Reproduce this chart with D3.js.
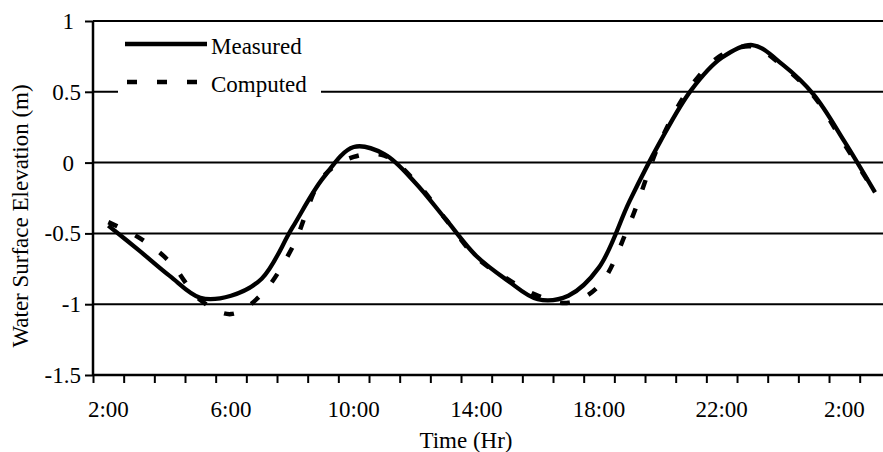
<!DOCTYPE html>
<html>
<head>
<meta charset="utf-8">
<script src="https://cdn.jsdelivr.net/npm/d3@7"></script>
<style>
  body { margin: 0; background: #fff; }
</style>
</head>
<body>
<div id="viz"></div>
<script>
const width = 883;
const height = 452;
const fontFamily = 'Liberation Serif';

// hours since midnight of day 1 (26 = 2:00 next day)
const hours = [2, 3, 4, 5, 6, 7, 8, 9, 10, 11, 12, 13, 14, 15, 16, 17, 18, 19, 20, 21, 22, 23, 24, 25, 26, 27];
const measured = [-0.445, -0.62, -0.80, -0.955, -0.94, -0.82, -0.46, -0.11, 0.11, 0.06, -0.14, -0.40, -0.66,
    -0.83, -0.965, -0.94, -0.74, -0.27, 0.15, 0.51, 0.74, 0.83, 0.69, 0.48, 0.15, -0.21];
const computed = [-0.42, -0.53, -0.70, -0.97, -1.07, -0.93, -0.60, -0.10, 0.04, 0.05, -0.13, -0.40, -0.67,
    -0.82, -0.94, -0.99, -0.87, -0.43, 0.15, 0.54, 0.76, 0.82, 0.68, 0.47, 0.13, -0.21];
const yTicks = [-1.5, -1, -0.5, 0, 0.5, 1];
const xLabelHours = [2, 6, 10, 14, 18, 22, 26];
const seriesNames = ['Measured', 'Computed'];

const margin = { top: 21, right: 0, bottom: 77, left: 93 };

const xScale = d3.scaleLinear()
    .domain([1.5, 27.26])
    .range([margin.left, width - margin.right]);

const yScale = d3.scaleLinear()
    .domain([-1.5, 1])
    .range([height - margin.bottom, margin.top]);

const svg = d3.select('#viz')
    .append('svg')
        .attr('width', width)
        .attr('height', height)
        .attr('font-family', fontFamily);

// gridlines
svg.append('g')
    .selectAll('line')
    .data(yTicks.filter(d => d > -1.5))
    .join('line')
        .attr('x1', margin.left)
        .attr('x2', width)
        .attr('y1', d => yScale(d))
        .attr('y2', d => yScale(d))
        .attr('stroke', '#000')
        .attr('stroke-width', 2);

// minor ticks every hour (between categories)
const tickHours = d3.range(1.5, 27, 1);
const xAxis = svg.append('g')
    .attr('transform', `translate(0, ${yScale(-1.5)})`)
    .call(d3.axisBottom(xScale).tickValues(tickHours).tickSize(8).tickFormat(''));
xAxis.select('.domain').attr('stroke-width', 2.5).attr('d', `M${margin.left},0H${width}`);
xAxis.selectAll('.tick line').attr('stroke-width', 2);

// x labels
svg.append('g')
    .selectAll('text')
    .data(xLabelHours)
    .join('text')
        .attr('x', d => xScale(d))
        .attr('y', 417)
        .attr('text-anchor', 'middle')
        .attr('font-family', fontFamily)
        .attr('font-size', 23)
        .text(d => (d % 24) + ':00');

const yAxis = svg.append('g')
    .attr('transform', `translate(${margin.left}, 0)`)
    .call(d3.axisLeft(yScale).tickValues(yTicks).tickSize(8).tickPadding(4).tickFormat(d => d));
yAxis.attr('font-family', fontFamily).attr('font-size', 23);
yAxis.select('.domain').attr('stroke-width', 2.5).attr('d', `M0,${yScale(1)}V${yScale(-1.5)}`);
yAxis.selectAll('.tick line').attr('stroke-width', 2);
yAxis.selectAll('.tick text')
    .attr('fill', '#000')
    .attr('dy', '0.33em')
    .attr('dx', d => (d >= 0 && Number.isInteger(d)) ? -7 : 0);

// axis titles
svg.append('text')
    .attr('x', 466)
    .attr('y', 448)
    .attr('text-anchor', 'middle')
    .attr('font-family', fontFamily)
    .attr('font-size', 23)
    .text('Time (Hr)');

svg.append('text')
    .attr('transform', 'translate(28, 216) rotate(-90)')
    .attr('text-anchor', 'middle')
    .attr('font-family', fontFamily)
    .attr('font-size', 23)
    .text('Water Surface Elevation (m)');

// legend
const legend = svg.append('g');
legend.append('rect')
    .attr('x', 118).attr('y', 28)
    .attr('width', 203).attr('height', 72)
    .attr('fill', '#fff');
legend.append('line')
    .attr('x1', 125).attr('x2', 207)
    .attr('y1', 44).attr('y2', 44)
    .attr('stroke', '#000').attr('stroke-width', 4.5);
legend.append('line')
    .attr('x1', 127).attr('x2', 200)
    .attr('y1', 82).attr('y2', 82)
    .attr('stroke', '#000').attr('stroke-width', 4.5)
    .attr('stroke-dasharray', '10,20');
legend.selectAll('text.lab')
    .data(seriesNames)
    .join('text')
        .attr('class', 'lab')
        .attr('x', 211)
        .attr('y', (d, i) => 54 + i * 38)
        .attr('font-family', fontFamily)
        .attr('font-size', 23)
        .text(d => d);

// lines
const line = d3.line()
    .x((d, i) => xScale(hours[i]))
    .y(d => yScale(d))
    .curve(d3.curveCatmullRom.alpha(0.5));

svg.append('path')
    .datum(computed)
    .attr('fill', 'none')
    .attr('stroke', '#000')
    .attr('stroke-width', 4.5)
    .attr('stroke-dasharray', '10,20')
    .attr('d', line);

svg.append('path')
    .datum(measured)
    .attr('fill', 'none')
    .attr('stroke', '#000')
    .attr('stroke-width', 4.3)
    .attr('stroke-linejoin', 'round')
    .attr('d', line);
</script>
</body>
</html>
